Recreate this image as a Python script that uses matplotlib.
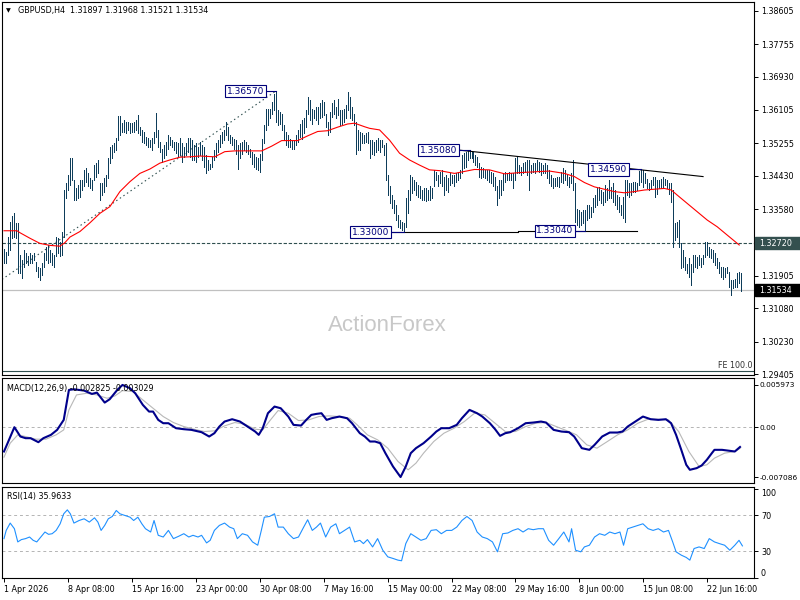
import matplotlib
matplotlib.use("Agg")
import matplotlib.pyplot as plt
from matplotlib.patches import Rectangle
from matplotlib import transforms
import numpy as np

plt.rcParams['font.family'] = ['DejaVu Sans']

# ---------------- data ----------------
header = "GBPUSD,H4  1.31897 1.31968 1.31521 1.31534"

bar_high = [
 1.3257,1.3251,1.3289,1.3327,1.3341,1.3348,1.3323,1.3323,1.3243,1.3230,
 1.3255,1.3247,1.3239,1.3247,1.3243,1.3247,1.3226,1.3213,1.3209,1.3222,
 1.3247,1.3264,1.3268,1.3255,1.3247,1.3243,1.3289,1.3285,1.3276,1.3302,
 1.3407,1.3424,1.3445,1.3487,1.3487,1.3432,1.3411,1.3420,1.3432,1.3432,
 1.3458,1.3462,1.3449,1.3437,1.3432,1.3470,1.3475,1.3483,1.3424,1.3424,
 1.3437,1.3445,1.3487,1.3517,1.3521,1.3525,1.3538,1.3593,1.3593,1.3576,
 1.3584,1.3580,1.3580,1.3576,1.3576,1.3580,1.3584,1.3597,1.3567,1.3559,
 1.3555,1.3542,1.3538,1.3534,1.3538,1.3555,1.3601,1.3559,1.3529,1.3512,
 1.3521,1.3529,1.3546,1.3542,1.3534,1.3529,1.3529,1.3525,1.3538,1.3525,
 1.3517,1.3525,1.3538,1.3538,
 1.3533,1.3520,1.3525,1.3516,1.3529,1.3520,1.3516,1.3495,1.3482,1.3474,
 1.3491,1.3508,1.3525,1.3533,1.3546,1.3554,1.3558,1.3579,1.3567,1.3546,
 1.3541,1.3537,1.3533,1.3520,1.3525,1.3529,1.3533,1.3529,1.3520,1.3512,
 1.3503,1.3499,1.3491,1.3487,1.3499,1.3537,1.3571,1.3613,1.3613,1.3613,
 1.3630,1.3651,1.3657,1.3609,1.3605,1.3600,1.3571,1.3554,1.3546,1.3537,
 1.3533,1.3533,1.3546,1.3558,1.3575,1.3584,1.3588,1.3609,1.3643,1.3634,
 1.3613,1.3609,1.3617,1.3617,1.3626,1.3634,1.3630,1.3600,1.3579,1.3605,
 1.3626,1.3634,1.3617,1.3638,1.3609,1.3609,1.3613,1.3621,1.3655,1.3643,
 1.3617,1.3600,1.3579,1.3558,1.3554,1.3550,1.3546,1.3550,1.3554,1.3533,
 1.3533,
 1.3529,1.3534,1.3538,1.3534,1.3534,1.3521,1.3525,1.3445,1.3416,1.3394,
 1.3382,1.3369,1.3344,1.3331,1.3327,1.3323,1.3386,1.3407,1.3445,1.3441,
 1.3432,1.3428,1.3420,1.3416,1.3407,1.3411,1.3411,1.3407,1.3416,1.3411,
 1.3458,1.3453,1.3445,1.3453,1.3458,1.3441,1.3445,1.3437,1.3449,1.3445,
 1.3445,1.3449,1.3453,1.3458,1.3496,1.3500,1.3504,1.3506,1.3508,1.3506,
 1.3504,1.3496,1.3491,1.3475,1.3466,1.3462,1.3458,1.3458,1.3458,1.3453,
 1.3449,1.3441,1.3416,1.3432,1.3432,1.3449,1.3453,1.3449,1.3453,1.3449,
 1.3449,1.3487,1.3491,1.3470,1.3466,1.3475,1.3479,1.3483,1.3483,1.3470,
 1.3475,1.3475,1.3483,1.3479,1.3475,1.3470,1.3475,1.3470,1.3458,1.3445,
 1.3437,1.3437,1.3441,
 1.3441,1.3453,1.3462,1.3457,1.3445,1.3441,1.3449,1.3483,1.3424,1.3360,
 1.3356,1.3352,1.3356,1.3356,1.3369,1.3369,1.3365,1.3386,1.3394,1.3411,
 1.3415,1.3407,1.3403,1.3419,1.3411,1.3432,1.3415,1.3424,1.3407,1.3394,
 1.3390,1.3369,1.3390,1.3432,1.3432,1.3424,1.3424,1.3428,1.3428,1.3424,
 1.3456,1.3459,1.3457,1.3449,1.3436,1.3424,1.3432,1.3441,1.3441,1.3432,
 1.3432,1.3436,1.3441,1.3436,1.3432,1.3424,1.3424,1.3407,1.3323,1.3327,
 1.3331,1.3272,1.3255,1.3238,1.3221,1.3234,1.3221,1.3242,1.3242,1.3238,
 1.3242,1.3234,1.3242,1.3276,1.3276,1.3264,1.3259,1.3255,1.3247,1.3234,
 1.3226,1.3213,1.3213,1.3209,1.3213,1.3200,1.3179,1.3179,1.3183,1.3196,
 1.3200,1.3197]

bar_low = [
 1.3222,1.3222,1.3243,1.3255,1.3285,1.3289,1.3285,1.3196,1.3196,1.3184,
 1.3213,1.3222,1.3217,1.3223,1.3223,1.3230,1.3201,1.3188,1.3180,1.3192,
 1.3213,1.3230,1.3222,1.3226,1.3217,1.3213,1.3239,1.3247,1.3239,1.3243,
 1.3289,1.3386,1.3407,1.3420,1.3432,1.3382,1.3382,1.3386,1.3390,1.3407,
 1.3416,1.3428,1.3416,1.3411,1.3407,1.3432,1.3441,1.3449,1.3382,1.3394,
 1.3403,1.3416,1.3437,1.3475,1.3487,1.3504,1.3508,1.3534,1.3546,1.3555,
 1.3555,1.3550,1.3559,1.3550,1.3555,1.3555,1.3559,1.3550,1.3546,1.3529,
 1.3525,1.3521,1.3517,1.3517,1.3508,1.3525,1.3542,1.3517,1.3504,1.3479,
 1.3487,1.3496,1.3512,1.3521,1.3517,1.3508,1.3500,1.3491,1.3496,1.3479,
 1.3491,1.3496,1.3504,1.3491,
 1.3482,1.3482,1.3478,1.3491,1.3495,1.3482,1.3466,1.3449,1.3457,1.3461,
 1.3466,1.3482,1.3491,1.3503,1.3516,1.3525,1.3533,1.3546,1.3533,1.3525,
 1.3520,1.3512,1.3499,1.3461,1.3487,1.3499,1.3508,1.3503,1.3499,1.3491,
 1.3474,1.3466,1.3461,1.3457,1.3453,1.3482,1.3525,1.3558,1.3571,1.3588,
 1.3600,1.3609,1.3579,1.3571,1.3575,1.3558,1.3533,1.3520,1.3516,1.3516,
 1.3512,1.3512,1.3520,1.3529,1.3541,1.3537,1.3550,1.3567,1.3600,1.3584,
 1.3575,1.3588,1.3584,1.3575,1.3588,1.3592,1.3596,1.3567,1.3546,1.3554,
 1.3592,1.3600,1.3588,1.3596,1.3571,1.3575,1.3579,1.3588,1.3609,1.3588,
 1.3584,1.3571,1.3499,1.3508,1.3508,1.3525,1.3525,1.3529,1.3525,1.3487,
 1.3499,
 1.3496,1.3504,1.3508,1.3504,1.3517,1.3496,1.3432,1.3394,1.3373,1.3361,
 1.3348,1.3331,1.3314,1.3310,1.3306,1.3300,1.3314,1.3348,1.3382,1.3399,
 1.3407,1.3394,1.3390,1.3386,1.3382,1.3382,1.3378,1.3382,1.3382,1.3386,
 1.3416,1.3432,1.3416,1.3424,1.3416,1.3394,1.3407,1.3403,1.3420,1.3424,
 1.3416,1.3428,1.3432,1.3437,1.3449,1.3462,1.3466,1.3483,1.3487,1.3487,
 1.3479,1.3470,1.3466,1.3441,1.3437,1.3441,1.3437,1.3432,1.3428,1.3424,
 1.3416,1.3407,1.3369,1.3386,1.3394,1.3407,1.3428,1.3432,1.3432,1.3432,
 1.3411,1.3432,1.3449,1.3449,1.3445,1.3449,1.3453,1.3445,1.3407,1.3449,
 1.3453,1.3449,1.3458,1.3453,1.3445,1.3449,1.3449,1.3437,1.3424,1.3416,
 1.3411,1.3416,1.3416,
 1.3415,1.3428,1.3424,1.3432,1.3419,1.3415,1.3424,1.3407,1.3327,1.3318,
 1.3314,1.3318,1.3323,1.3304,1.3331,1.3335,1.3339,1.3352,1.3365,1.3369,
 1.3382,1.3373,1.3369,1.3377,1.3382,1.3386,1.3386,1.3377,1.3369,1.3360,
 1.3352,1.3344,1.3335,1.3327,1.3394,1.3390,1.3394,1.3403,1.3403,1.3407,
 1.3419,1.3428,1.3415,1.3424,1.3411,1.3407,1.3411,1.3419,1.3390,1.3398,
 1.3411,1.3411,1.3415,1.3419,1.3411,1.3398,1.3377,1.3264,1.3280,1.3289,
 1.3264,1.3209,1.3213,1.3205,1.3196,1.3188,1.3167,1.3200,1.3213,1.3209,
 1.3217,1.3213,1.3221,1.3238,1.3242,1.3238,1.3234,1.3226,1.3217,1.3209,
 1.3196,1.3188,1.3183,1.3188,1.3196,1.3162,1.3141,1.3158,1.3162,1.3162,
 1.3171,1.3152]

ma_idx = [0,6.5,8,13,18,23,28,30.5,33,38,43,48,53,58,63,68,73,78,83,88,
          93,98,105.5,110.5,115.5,129,134,139,147,152,157,162,167,172,175.5,
          180.5,183,188,193,198,203,208,213,218,225.5,235.5,243,250.5,258,265.5,
          273,280.5,285.5,290.5,295.5,300.5,305.5,310.5,315.5,320.5,325.5,330.5,
          334,337,342,347,352,357,362,368]
ma_val = [1.3304,1.3304,1.3299,1.3285,1.3272,1.3267,1.3265,1.3274,1.3288,1.3302,
          1.3324,1.3348,1.3365,1.3403,1.3428,1.3449,1.3460,1.3475,1.3483,1.3490,
          1.3491,1.3493,1.3491,1.3504,1.3506,1.3506,1.3518,1.3532,1.3532,1.3544,
          1.3555,1.3557,1.3566,1.3574,1.3576,1.3567,1.3563,1.3559,1.3533,1.3500,
          1.3483,1.3470,1.3458,1.3456,1.3449,1.3459,1.3458,1.3448,1.3451,1.3453,
          1.3455,1.3449,1.3441,1.3426,1.3415,1.3409,1.3403,1.3400,1.3403,1.3407,
          1.3409,1.3411,1.3407,1.3394,1.3373,1.3352,1.3331,1.3314,1.3293,1.3268]

macd_idx = [0,1.8,5.2,8.2,10.8,13.3,17.2,19.7,23.5,26.6,29.9,32.5,35.0,40.1,44.0,46.5,50.4,52.9,56.7,59.3,
            63.1,65.7,69.5,72.6,74.6,77.2,79.7,82.3,86.1,90.0,93.8,98.9,102.7,105.3,107.8,110.4,114.2,118.1,121.9,125.7,
            127.5,129.5,132.1,135.4,138.5,142.3,144.9,148.7,151.3,153.8,156.4,158.9,161.5,164.0,167.9,171.7,174.2,178.1,180.6,183.2,
            185.7,188.3,190.9,194.7,198.5,201.1,203.6,206.2,210.0,213.8,216.4,218.9,222.8,226.6,229.2,233.0,236.8,239.4,243.2,245.8,
            248.3,250.9,253.4,257.3,261.1,264.9,268.8,271.3,275.1,279.0,282.8,285.4,289.2,293.0,295.6,299.4,303.2,307.1,309.6,312.2,
            316.0,319.8,323.7,327.5,331.3,333.9,336.4,339.0,341.5,343.3,346.7,349.2,351.8,354.3,355.6,359.4,362.0,365.8,368.4]
macd_val = [-0.003462,-0.002283,-0.000019,-0.00134,-0.001575,-0.001575,-0.002142,-0.001575,-0.001104,-0.000396,
            0.001019,0.005264,0.005359,0.00517,0.004698,0.004887,0.003472,0.003943,0.005264,0.005972,
            0.0055,0.004792,0.003141,0.002198,0.002198,0.001019,0.000547,0.000547,-0.00016,-0.000302,
            -0.000396,-0.000726,-0.00134,-0.000868,0.000075,0.000783,0.001113,0.000783,0.000075,-0.000632,
            -0.001104,-0.00016,0.001962,0.002906,0.00267,0.001491,0.000311,0.000217,0.001019,0.001726,
            0.001868,0.001962,0.001019,0.001255,0.001491,0.001255,0.000547,-0.000868,-0.00134,-0.002047,
            -0.002047,-0.002283,-0.003698,-0.005585,-0.007086,-0.005585,-0.003698,-0.002991,-0.002283,-0.00134,
            -0.000632,-0.00016,-0.00016,0.000311,0.001255,0.002434,0.001962,0.001491,0.000547,-0.000302,
            -0.001245,-0.000868,-0.000726,-0.00016,0.000547,0.000642,0.000783,0.000642,-0.000396,-0.000632,
            -0.000726,-0.00134,-0.002991,-0.003226,-0.002519,-0.00134,-0.000774,-0.000774,-0.000632,0.000075,
            0.000783,0.001491,0.001113,0.001019,0.001113,0.000547,-0.001104,-0.003226,-0.005349,-0.006057,
            -0.005821,-0.005443,-0.004642,-0.003698,-0.003226,-0.003226,-0.003321,-0.003462,-0.002825]

signal_idx = [0,3.1,6.9,10.8,15.9,21.0,26.1,29.9,32.5,36.3,41.4,46.5,51.6,55.5,59.3,64.4,69.5,74.6,79.7,84.8,
              90.0,95.1,100.2,105.3,110.4,115.5,120.6,125.7,129.5,133.4,137.2,142.3,147.4,152.5,157.6,162.7,167.9,173.0,176.8,181.9,
              187.0,192.1,197.2,202.3,206.2,210.0,215.1,220.2,225.3,230.4,235.5,240.7,245.8,250.9,256.0,261.1,266.2,271.3,276.4,281.5,
              286.6,291.7,296.8,302.0,307.1,312.2,317.3,322.4,327.5,332.6,337.7,342.8,347.9,351.8,355.6,360.7,365.8,368.4]
signal_val = [-0.004264,-0.002283,-0.001104,-0.00134,-0.001717,-0.001717,-0.001104,-0.000396,0.002434,0.004557,
              0.004792,0.004557,0.004085,0.004415,0.00517,0.005028,0.003849,0.00267,0.001491,0.000642,
              0.000075,-0.000302,-0.000632,-0.000538,0.00017,0.000642,0.000406,-0.000302,-0.000396,0.001019,
              0.00234,0.001962,0.000925,0.001019,0.001491,0.001585,0.001491,0.001255,0.000311,-0.001104,
              -0.001811,-0.002991,-0.004877,-0.006057,-0.005113,-0.003698,-0.002047,-0.000868,-0.00016,0.000783,
              0.001962,0.001726,0.000547,-0.000632,-0.000632,0.000075,0.000547,0.000642,0.000075,-0.000491,
              -0.001104,-0.002519,-0.002991,-0.002047,-0.001104,-0.000396,0.000547,0.001113,0.001113,0.001019,
              -0.000632,-0.003462,-0.005585,-0.005349,-0.004406,-0.003698,-0.003462,-0.003029]

rsi_idx = [0,1.1,3.1,5.2,6.9,8.7,10.8,12.8,14.6,16.4,18.4,20.5,22.3,24.1,26.1,28.1,29.9,31.7,33.2,35.0,
           37.6,40.1,42.7,45.3,47.0,48.6,50.4,52.2,54.2,56.2,58.0,60.6,63.1,64.9,67.0,69.0,70.8,73.4,75.1,77.2,
           79.7,82.3,84.8,87.4,90.0,92.5,94.6,97.1,98.9,101.4,103.2,105.3,107.8,110.4,112.9,115.0,116.8,119.3,121.9,124.4,
           127.0,128.8,130.3,132.9,135.4,137.2,139.8,142.3,144.9,147.4,150.0,152.0,154.3,156.4,158.4,161.0,163.5,166.1,167.9,170.4,
           173.0,175.5,178.1,179.9,181.9,184.5,187.0,189.6,192.1,194.7,197.2,199.0,201.1,203.6,206.2,208.7,211.3,213.8,216.4,218.9,
           221.5,224.1,226.6,229.2,231.7,234.3,236.8,239.4,241.9,244.5,247.0,249.6,252.2,254.7,257.3,259.8,262.4,264.9,267.5,270.0,
           272.6,275.1,277.7,280.2,282.8,284.1,286.1,288.7,290.5,293.0,295.6,298.1,300.7,303.2,305.8,308.3,310.1,312.2,314.7,317.3,
           319.8,322.4,324.9,327.5,330.1,332.6,334.7,336.4,339.0,341.5,343.3,345.4,347.9,350.5,353.0,355.6,358.1,360.7,363.3,365.8,
           367.9,369.6]
rsi_val = [44.1,53.3,61.5,55.2,40.4,43.0,44.1,45.9,42.2,40.4,45.9,51.5,48.9,49.6,53.3,60.7,71.9,76.3,71.9,61.5,
           64.4,66.3,62.6,67.4,62.6,53.3,58.9,66.3,68.9,75.6,71.9,70.0,68.1,64.4,68.1,60.7,55.2,51.5,64.4,47.8,
           45.9,53.3,44.1,46.7,49.6,45.9,47.8,45.9,47.8,39.3,42.2,53.3,58.9,61.5,57.0,55.2,44.1,49.6,47.8,40.4,
           36.7,53.3,68.1,68.9,71.9,57.0,57.0,49.6,44.1,45.9,57.0,65.2,53.3,57.0,61.5,45.9,57.0,60.7,49.6,53.3,
           57.0,40.4,42.2,38.5,43.0,34.8,44.1,31.1,23.7,21.9,20.0,19.3,38.5,49.6,45.9,42.2,44.1,53.3,54.1,49.6,
           53.3,53.3,57.0,64.4,68.9,64.4,51.5,45.9,44.1,40.4,29.3,49.6,50.4,53.3,55.2,51.5,55.2,54.1,55.2,55.2,
           42.2,36.7,44.1,51.5,40.4,55.2,31.1,29.3,34.8,36.7,45.9,49.6,47.8,51.5,49.6,51.5,36.7,55.2,57.0,58.9,
           60.7,55.2,53.3,55.2,51.5,53.3,40.4,29.3,25.6,23.0,20.0,33.0,34.8,33.0,44.1,40.4,38.5,36.7,31.1,36.7,
           42.2,35.96]

macd_title = "MACD(12,26,9) -0.002825 -0.003029"
rsi_title = "RSI(14) 35.9633"

price_ticks = [1.38605, 1.37755, 1.36930, 1.36105, 1.35255, 1.34430, 1.33580,
               1.31905, 1.31080, 1.30230, 1.29405]
marked_level = 1.32720
current_price = 1.31534
fe_level = 1.2950

# price-label objects: text, price, box right edge (bar idx), bar idx
price_labels = [("1.36570", 1.3657, 131.0, 136),
                ("1.35080", 1.3508, 227.7, 233),
                ("1.34590", 1.3459, 312.8, 319),
                ("1.33000", 1.3300, 193.7, 200),
                ("1.33040", 1.3304, 285.8, 291)]
trend_pts = [(227.7, 1.3508), (349.9, 1.3441)]
support_1 = [(193.7, 1.3300), (257.3, 1.3300)]
support_2 = [(257.3, 1.3304), (316.8, 1.3304)]
fe_line = [(-1.0, 1.3181), (136, 1.3657)]

x_tick_idx = [0, 32, 64, 96, 128, 160, 192, 224, 256, 288, 320, 352]
x_tick_labels = ["1 Apr 2026", "8 Apr 08:00", "15 Apr 16:00", "23 Apr 00:00",
                 "30 Apr 08:00", "7 May 16:00", "15 May 00:00", "22 May 08:00",
                 "29 May 16:00", "8 Jun 00:00", "15 Jun 08:00", "22 Jun 16:00"]

# ---------------- style ----------------
BAR = '#0e3d5a'
NAVY = '#00007a'
SLATE = '#2f4f4f'
FS = 5.8
W, H = 800, 600
XMIN, XMAX = -1.0, 375.4

fig = plt.figure(figsize=(8, 6), dpi=100)
fig.patch.set_facecolor('white')

def rect(top, bottom, left=2, right=754):
    return [left / W, 1 - bottom / H, (right - left) / W, (bottom - top) / H]

ax = fig.add_axes(rect(2, 375))
axm = fig.add_axes(rect(378, 483))
axr = fig.add_axes(rect(487, 578))

for a in (ax, axm, axr):
    a.set_xlim(XMIN, XMAX)
    for s in a.spines.values():
        s.set_color('black')
        s.set_linewidth(0.8)
    a.yaxis.tick_right()
    a.tick_params(axis='y', direction='out', length=3, width=0.7, pad=2.0,
                  labelsize=FS, colors='black')

# ---- main panel ----
idx = np.arange(len(bar_high))
ax.set_ylim(1.29392, 1.38825)
ax.set_xticks([])
ax.set_yticks(price_ticks, labels=[f"{v:.5f}" for v in price_ticks])

ax.text(0.512, 0.134, "ActionForex", transform=ax.transAxes, ha='center', va='center',
        fontsize=16, color='#c8c8c8', family='Liberation Sans', zorder=0)

ax.axhline(current_price, color='#c0c0c0', lw=0.9, zorder=1)
ax.axhline(marked_level, color=SLATE, lw=0.8, ls=(0, (3, 1.6)), zorder=2)
ax.axhline(fe_level, color=SLATE, lw=0.8, zorder=2)
ax.text(XMAX - 0.6, fe_level + 0.0003, "FE 100.0", ha='right', va='bottom',
        fontsize=FS, color='#333333', zorder=6)

ax.plot([p[0] for p in fe_line], [p[1] for p in fe_line], color=SLATE, lw=0.8,
        ls=(0, (1.3, 2.6)), zorder=2)

ax.vlines(idx, bar_low, bar_high, colors=BAR, linewidth=0.5, antialiased=False, zorder=3)
ax.plot(ma_idx, ma_val, color='#ff0000', lw=0.8, zorder=4)

ax.plot([p[0] for p in trend_pts], [p[1] for p in trend_pts], color='black', lw=0.8, zorder=4)
ax.plot([p[0] for p in support_1], [p[1] for p in support_1], color='black', lw=0.8, zorder=4)
ax.plot([p[0] for p in support_2], [p[1] for p in support_2], color='black', lw=0.8, zorder=4)

for txt, pv, xr, xb in price_labels:
    ax.plot([xr, xb], [pv, pv], color=NAVY, lw=0.8, zorder=4)
    ax.text(xr - 0.8, pv, txt, ha='right', va='center', fontsize=6.5, color=NAVY, zorder=6,
            bbox=dict(boxstyle='square,pad=0.18', fc='white', ec=NAVY, lw=0.8))

# right-axis value boxes
trans = transforms.blended_transform_factory(fig.transFigure, ax.transData)
for pv, txt, col in [(marked_level, "1.32720", '#34504f'), (current_price, "1.31534", 'black')]:
    r = Rectangle((755 / W, pv - 0.00152), 45 / W, 0.00304, transform=trans,
                  facecolor=col, edgecolor=col, clip_on=False, zorder=10)
    fig.add_artist(r)
    t = fig.text(0, 0, txt, transform=trans, fontsize=FS, color='white',
                 ha='left', va='center', zorder=11)
    t.set_position((759 / W, pv))

fig.text(6 / W, 1 - 11 / H, "\u25BC", fontsize=4.5, ha='left', va='center', color='black')
fig.text(18 / W, 1 - 11 / H, header, fontsize=FS, ha='left', va='center', color='black')

# ---- MACD panel ----
axm.set_ylim(-0.007928, 0.006956)
axm.set_xticks([])
axm.set_yticks([0.005973, 0.0, -0.007086], labels=["0.005973", "0.00", "-0.007086"])
axm.tick_params(axis='y', labelsize=5.3, pad=1.0)
axm.axhline(0, color='#b4b4b4', lw=0.7, ls=(0, (3, 3)), zorder=1)
axm.plot(signal_idx, signal_val, color='#b8b8b8', lw=0.8, zorder=2)
axm.plot(macd_idx, macd_val, color='#00008b', lw=1.5, zorder=3)
axm.text(0.006, 0.90, macd_title, transform=axm.transAxes, fontsize=FS, ha='left', va='center')

# ---- RSI panel ----
axr.set_ylim(0.8, 101.9)
axr.set_yticks([100, 70, 30, 0], labels=["100", "70", "30", "0"])
yl = axr.get_yticklabels()
yl[0].set_va('top')
yl[3].set_va('bottom')
axr.axhline(70, color='#b4b4b4', lw=0.7, ls=(0, (3, 3)), zorder=1)
axr.axhline(30, color='#b4b4b4', lw=0.7, ls=(0, (3, 3)), zorder=1)
axr.plot(rsi_idx, rsi_val, color='#1e90ff', lw=0.8, zorder=3)
axr.text(0.006, 0.90, rsi_title, transform=axr.transAxes, fontsize=FS, ha='left', va='center')

axr.set_xticks(x_tick_idx, labels=x_tick_labels)
axr.tick_params(axis='x', direction='out', length=3, width=0.7, pad=2, labelsize=FS)
for t in axr.get_xticklabels():
    t.set_ha('left')

fig.savefig("out.png", dpi=100)
